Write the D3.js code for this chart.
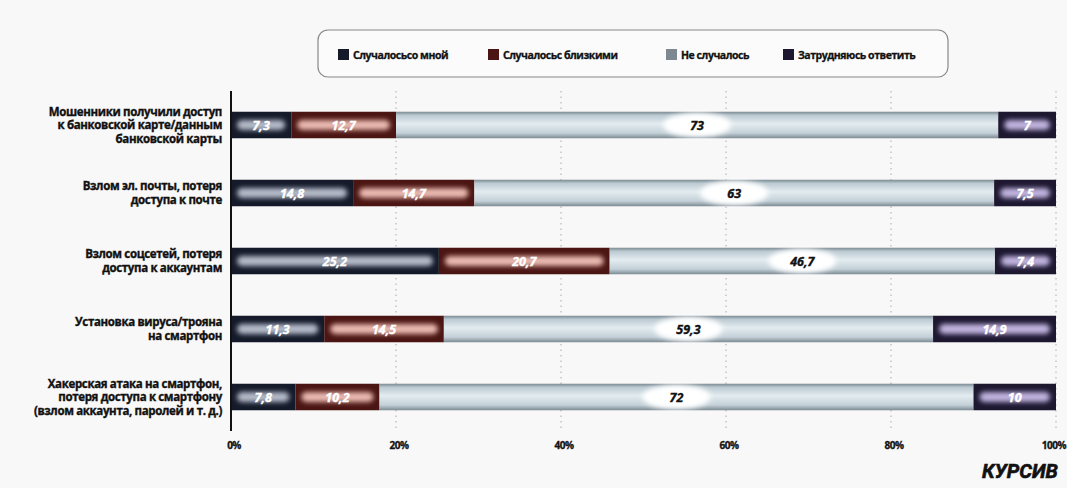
<!DOCTYPE html>
<html>
<head>
<meta charset="utf-8">
<script src="https://cdn.jsdelivr.net/npm/d3@7"></script>
<style>
body{margin:0;background:#f8f8f8;}
svg{display:block;font-family:"Open Sans","DejaVu Sans Condensed",sans-serif;}
</style>
</head>
<body>
<div id="wrapper"></div>
<script>
// Data
const categories = [
  ["Мошенники получили доступ", "к банковской карте/данным", "банковской карты"],
  ["Взлом эл. почты, потеря", "доступа к почте"],
  ["Взлом соцсетей, потеря", "доступа к аккаунтам"],
  ["Установка вируса/трояна", "на смартфон"],
  ["Хакерская атака на смартфон,", "потеря доступа к смартфону", "(взлом аккаунта, паролей и т. д.)"]
];
const seriesNames = ["Случалосьсо мной", "Случалосьс близкими", "Не случалось", "Затрудняюсь ответить"];
const withMe = [7.3, 14.8, 25.2, 11.3, 7.8];
const withClose = [12.7, 14.7, 20.7, 14.5, 10.2];
const never = [73, 63, 46.7, 59.3, 72];
const hardToSay = [7, 7.5, 7.4, 14.9, 10];
const tickValues = [0, 20, 40, 60, 80, 100];

const colors = ["#141a2a", "#4a1512", "#cbd8df", "#1d1730"];
const glows = ["#b4bac8", "#eab9b0", "#f2f7f9", "#c0b3df"];

// Dimensions
const width = 1067, height = 488;
const margins = {left: 231, right: 11, top: 91, bottom: 57};

const svg = d3.select('#wrapper').append('svg')
  .attr('width', width).attr('height', height);
svg.append('rect').attr('width', width).attr('height', height).attr('fill', '#f8f8f8');

const defs = svg.append('defs');
defs.append('filter').attr('id', 'blur').attr('x', '-20%').attr('y', '-80%').attr('width', '140%').attr('height', '260%')
  .append('feGaussianBlur').attr('stdDeviation', 2.5);
const lg = defs.append('linearGradient').attr('id', 'lightGrad').attr('x1', 0).attr('x2', 0).attr('y1', 0).attr('y2', 1);
[[0, "#7c8a93"], [0.14, "#bccad2"], [0.45, "#e3ecf0"], [0.8, "#c4d1d8"], [1, "#7c8a93"]]
  .forEach(([o, c]) => lg.append('stop').attr('offset', o).attr('stop-color', c));

// Scales
const xScale = d3.scaleLinear().domain([0, 100]).range([margins.left, width - margins.right]);
const yScale = d3.scaleBand().domain(d3.range(categories.length))
  .range([margins.top, height - margins.bottom]).paddingInner(0.61).paddingOuter(0.305);

// Stack
const keys = ["a", "b", "c", "d"];
const rows = categories.map((c, i) => ({i, a: withMe[i], b: withClose[i], c: never[i], d: hardToSay[i]}));
const stack = d3.stack().keys(keys)(rows);

// Grid lines
svg.append('g').selectAll('line').data(tickValues.slice(1)).join('line')
  .attr('x1', d => xScale(d)).attr('x2', d => xScale(d))
  .attr('y1', margins.top).attr('y2', height - margins.bottom)
  .attr('stroke', '#b8b8b8').attr('stroke-width', 1.2).attr('stroke-dasharray', '1.5,4');

// Bars
const bh = yScale.bandwidth();
stack.forEach((layer, k) => {
  const g = svg.append('g');
  layer.forEach((d, i) => {
    const x0 = xScale(d[0]), x1 = xScale(d[1]), y = yScale(i);
    g.append('rect').attr('x', x0).attr('y', y).attr('width', x1 - x0).attr('height', bh)
      .attr('fill', k === 2 ? 'url(#lightGrad)' : colors[k]);
    if (k !== 2) {
      g.append('rect').attr('x', x0 + 6).attr('y', y + bh / 2 - 5).attr('width', Math.max(0, x1 - x0 - 12)).attr('height', 10)
        .attr('rx', 5).attr('fill', glows[k]).attr('filter', 'url(#blur)');
    } else {
      g.append('ellipse').attr('cx', (x0 + x1) / 2).attr('cy', y + bh / 2).attr('rx', 34).attr('ry', bh / 2 - 1)
        .attr('fill', '#ffffff').attr('filter', 'url(#blur)');
    }
    g.append('text').attr('x', (x0 + x1) / 2).attr('y', y + bh / 2 + 4.5)
      .attr('text-anchor', 'middle').attr('font-size', 12.5).attr('font-weight', 'bold').attr('font-style', 'italic')
      .attr('fill', k === 2 ? '#111' : '#fff')
      .attr('stroke', k === 2 ? '#111' : '#fff').attr('stroke-width', 0.4)
      .text(String(d.data[keys[k]]).replace('.', ','));
  });
});

// Y axis line
svg.append('line').attr('x1', margins.left).attr('x2', margins.left)
  .attr('y1', margins.top).attr('y2', height - margins.bottom)
  .attr('stroke', '#111').attr('stroke-width', 2);

// Category labels
categories.forEach((lines, i) => {
  const cy = yScale(i) + bh / 2;
  const lh = 13.5;
  const t = svg.append('text').attr('text-anchor', 'end').attr('font-size', 11.5).attr('font-weight', 'bold')
    .attr('fill', '#111').attr('stroke', '#111').attr('stroke-width', 0.35).attr('letter-spacing', -0.35);
  lines.forEach((l, j) => {
    t.append('tspan').attr('x', 222).attr('y', cy + 4 + (j - (lines.length - 1) / 2) * lh).text(l);
  });
});

// X tick labels
svg.append('g').selectAll('text').data(tickValues).join('text')
  .attr('x', d => d === 100 ? width - 1 : xScale(d) + 3).attr('y', height - margins.bottom + 18)
  .attr('text-anchor', d => d === 100 ? 'end' : 'middle')
  .attr('font-size', 10).attr('font-weight', 'bold').attr('fill', '#111')
  .attr('stroke', '#111').attr('stroke-width', 0.3).attr('letter-spacing', -0.5)
  .text(d => d + '%');

// Legend
svg.append('rect').attr('x', 318).attr('y', 30).attr('width', 630).attr('height', 47).attr('rx', 10)
  .attr('fill', '#fbfbfb').attr('stroke', '#888').attr('stroke-width', 1.2);
const legendX = [338, 488, 666, 783];
seriesNames.forEach((n, k) => {
  svg.append('rect').attr('x', legendX[k]).attr('y', 49).attr('width', 11).attr('height', 11)
    .attr('fill', k === 2 ? '#7d8890' : colors[k]);
  svg.append('text').attr('x', legendX[k] + 15).attr('y', 58.5)
    .attr('font-size', 10.5).attr('font-weight', 'bold').attr('fill', '#111')
    .attr('stroke', '#111').attr('stroke-width', 0.3).attr('letter-spacing', -0.45)
    .text(n);
});

// Source
svg.append('text').attr('x', 1058).attr('y', 478).attr('text-anchor', 'end')
  .attr('font-size', 20).attr('font-weight', 'bold').attr('font-style', 'italic').attr('fill', '#111')
  .attr('stroke', '#111').attr('stroke-width', 0.6)
  .attr('font-family', 'Roboto, sans-serif')
  .text('КУРСИВ');
</script>
</body>
</html>
